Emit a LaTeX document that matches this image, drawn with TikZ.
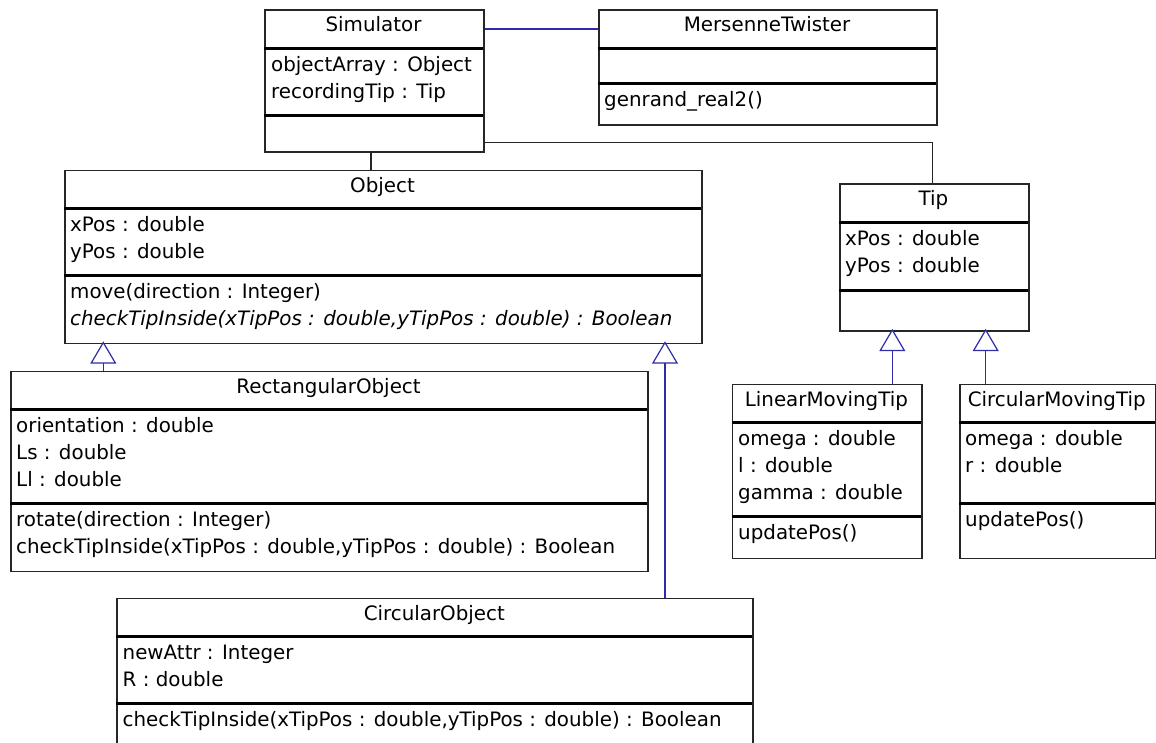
\documentclass[tikz,border=0pt]{standalone}
\usepackage{fontspec}
\setmainfont{DejaVu Sans}
\begin{document}
\begin{tikzpicture}[x=1pt,y=-1pt,
  frame/.style={draw=black!85, line width=1.5pt, inner sep=0pt, anchor=north west},
  sepline/.style={line width=3pt, black},
  title/.style={anchor=base, inner sep=0pt},
  memb/.style={anchor=base west, inner sep=0pt},
  assoc/.style={line width=1.3pt, draw=black!85},
  link/.style={line width=1.2pt, draw=umlblue},
  genarrow/.style={draw=umlblue, line width=1.2pt, fill=white},
  every node/.style={font=\fontsize{19.85}{27}\selectfont}]
\definecolor{umlblue}{RGB}{45,45,165}
\clip (0,0) rectangle (1156,742);
\fill[white] (0,0) rectangle (1156,742);

% class box: name, left, top, right, bottom, first separator, second separator, title
\newcommand\classbox[8]{%
  \node[frame, minimum width={#4-#2}, minimum height={#5-#3}] (#1) at (#2,#3) {};
  \draw[sepline] (#2,#6) -- (#4,#6);
  \draw[sepline] (#2,#7) -- (#4,#7);
  \node[title] (#1-title) at ({(#2+#4)/2},{#3+22.5}) {#8};}
% one member line per list entry: prefix, x, first baseline, entries
\newcommand\memberlines[4]{%
  \foreach \t [count=\i from 0] in {#4}
    \node[memb] (#1\i) at (#2,{#3+27*\i}) {\t};}

% --- classes ---
\classbox{sim}{264}{9}{483}{151}{48.5}{115}{Simulator}
\memberlines{simA}{271}{71.5}{{objectArray : Object},{recordingTip : Tip}}

\classbox{mt}{598}{9}{936}{124.3}{48.5}{83.5}{MersenneTwister}
\memberlines{mtM}{604}{106.5}{{genrand\_real2()}}

\classbox{obj}{64}{169.5}{701}{342.5}{208.5}{275.5}{Object}
\memberlines{objA}{70}{231.5}{{xPos : double},{yPos : double}}
\memberlines{objM}{70}{298.5}{{move(direction : Integer)},{\itshape checkTipInside(xTipPos : double,yTipPos : double) : Boolean}}

\classbox{tip}{839}{183.3}{1028}{330}{222.3}{290.7}{Tip}
\memberlines{tipA}{845}{245.3}{{xPos : double},{yPos : double}}

\classbox{rect}{10}{370.7}{647}{570.7}{409.3}{503.3}{RectangularObject}
\memberlines{rectA}{16}{432.3}{{orientation : double},{Ls : double},{Ll : double}}
\memberlines{rectM}{16}{526.3}{{rotate(direction : Integer)},{checkTipInside(xTipPos : double,yTipPos : double) : Boolean}}

\classbox{lmt}{731.7}{383.7}{921}{557.7}{422.3}{516.7}{LinearMovingTip}
\memberlines{lmtA}{738}{445.3}{{omega : double},{l : double},{gamma : double}}
\memberlines{lmtM}{738}{539.7}{{updatePos()}}

\classbox{cmt}{959}{383.7}{1154.5}{557.7}{422.3}{503}{CircularMovingTip}
\memberlines{cmtA}{965}{445.3}{{omega : double},{r : double}}
\memberlines{cmtM}{965}{526}{{updatePos()}}

\classbox{cobj}{116.3}{597.7}{752.3}{790}{636.7}{703.3}{CircularObject}
\memberlines{cobjA}{122.5}{659.7}{{newAttr : Integer},{R : double}}
\memberlines{cobjM}{122.5}{726.3}{{checkTipInside(xTipPos : double,yTipPos : double) : Boolean}}

% --- associations ---
\draw[link] (sim.east |- 0,29) -- (mt.west |- 0,29);
\draw[assoc] (sim.south -| 371,0) -- (obj.north -| 371,0);
\coordinate (bend) at (932.3,142.7);
\draw[assoc] (sim.east |- bend) -- (bend) -- (tip.north -| bend);

% --- generalizations: hollow triangles on the parent's edge ---
\newcommand\gentri[3]{% name, apex x, apex y
  \coordinate (#1) at (#2,#3);
  \draw[genarrow] (#1) -- ++(-12,20.4) -- ++(24,0) -- cycle;}
\gentri{gRect}{103.3}{342.5}
\gentri{gCobj}{665}{342.5}
\gentri{gLmt}{892.3}{330}
\gentri{gCmt}{985.7}{330}
\draw[link] ([yshift=-20.4]gRect) -- (rect.north -| gRect);
\draw[link] ([yshift=-20.4]gCobj) -- (cobj.north -| gCobj);
\draw[link] ([yshift=-20.4]gLmt) -- (lmt.north -| gLmt);
\draw[link] ([yshift=-20.4]gCmt) -- (cmt.north -| gCmt);
\end{tikzpicture}
\end{document}
